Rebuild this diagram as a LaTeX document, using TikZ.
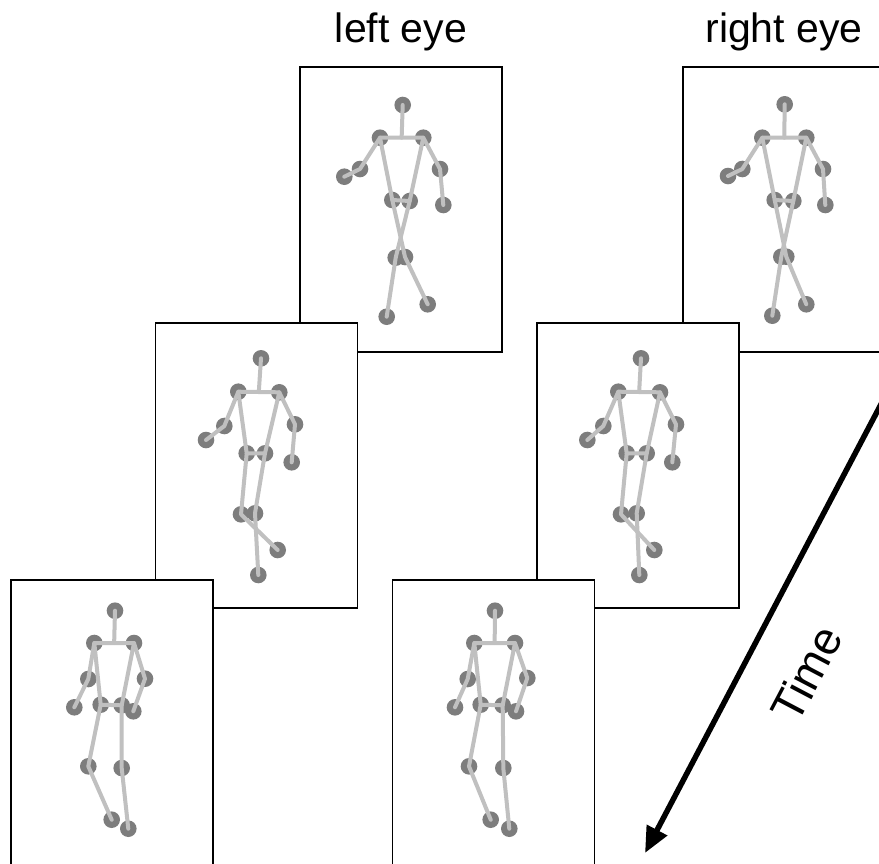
\documentclass[tikz,border=0pt]{standalone}
\usepackage{fontspec}
\setmainfont{Liberation Sans}
\usetikzlibrary{calc,arrows.meta}
\definecolor{jointgray}{RGB}{125,125,125}
\definecolor{bonegray}{RGB}{192,192,192}
\tikzstyle{frame} = [rectangle, draw, line width=1.2pt, fill=white, inner sep=0pt, minimum width=202pt, minimum height=285pt]
\tikzstyle{eyelabel} = [anchor=base, inner sep=0pt, font=\fontsize{41}{48}\selectfont]
\tikzstyle{joint} = [fill=jointgray]
\tikzstyle{bone} = [draw=bonegray, line width=4pt, line cap=round, line join=round]

% one stick figure: #1 name prefix, #2 list of joint/x/y
\newcommand{\stickman}[2]{%
  \foreach \j/\x/\y in {#2} \coordinate (#1-\j) at (\x,\y);
  \foreach \j in {hd,ls,rs,le,re,lw,rw,lp,rp,lk,rk,lf,rf}
    \fill[joint] (#1-\j) circle (8.3pt);
  \draw[bone] (#1-hd) -- ($(#1-ls)!.5!(#1-rs)$);
  \draw[bone] (#1-lw) -- (#1-le) -- (#1-ls) -- (#1-rs) -- (#1-re) -- (#1-rw);
  \draw[bone] (#1-ls) -- (#1-lp) -- (#1-rp) -- (#1-rs);
  \draw[bone] (#1-lp) -- (#1-lk) -- (#1-lf);
  \draw[bone] (#1-rp) -- (#1-rk) -- (#1-rf);
}

\begin{document}
\begin{tikzpicture}[x=1pt,y=-1pt]
  \useasboundingbox (0,0) rectangle (879,863);
  \clip (0,0) rectangle (879,863);

  \node[frame] (L_1) at (401,209.5) {};
  \stickman{S_L1}{hd/402.7/105, ls/380/137.7, rs/423.3/137.7, le/360/169, lw/344.3/176.7, re/440/169, rw/443.3/205, lp/392.3/200, rp/409.7/201, lk/405/257, rk/395.7/257.7, lf/427.7/304.3, rf/386.7/316.7}
  \node[frame] (R_1) at (784,209.5) {};
  \stickman{S_R1}{hd/784.7/104.3, ls/762.3/137.7, rs/806.3/137.7, le/742.3/169, lw/728/176, re/823/169, rw/825.3/205, lp/774.7/200, rp/793.3/201, lk/786.3/256.7, rk/781.3/256.7, lf/806.3/304.3, rf/772.3/315.7}

  \node[frame] (L_2) at (256.5,465.5) {};
  \stickman{S_L2}{hd/261/358.3, ls/238.3/391.7, rs/279.3/392.3, le/224.3/426, lw/206/440, re/295/424.3, rw/291.7/462.3, lp/246.7/453.3, rp/265/453.3, lk/241/514.3, rk/255/513.3, lf/277.7/550, rf/258.3/575}
  \node[frame] (R_2) at (638,465.5) {};
  \stickman{S_R2}{hd/641/358.3, ls/618.3/391.7, rs/660/392.3, le/603.3/426, lw/587.3/440, re/676/424.3, rw/672.3/462.3, lp/626.7/453.3, rp/646.7/453.3, lk/621/514.3, rk/636.7/513.3, lf/654.3/550, rf/639.3/575}

  \node[frame] (L_3) at (112,722.5) {};
  \stickman{S_L3}{hd/115/610.7, ls/94.3/643, rs/134/643, le/88.3/679, lw/74.3/707.3, re/145/678.7, rw/133.3/711.3, lp/100.7/704.7, rp/121.7/705.3, lk/88.3/766.3, rk/121.7/768, lf/111.7/819.7, rf/128.3/828.7}
  \node[frame] (R_3) at (493.5,722.5) {};
  \stickman{S_R3}{hd/495/610.7, ls/474.3/643, rs/515/643, le/467.7/679, lw/455/707.3, re/527.3/678, rw/516/711.3, lp/480.7/704.7, rp/502.7/705.3, lk/469/766.3, rk/503.3/768, lf/490.7/819.7, rf/509.3/828.7}

  \node[eyelabel] (lefteye) at ([yshift=24pt]L_1.north) {left eye};
  \node[eyelabel] (righteye) at ([yshift=24pt]R_1.north) {right eye};

  \coordinate (t_0) at (900,368.1);
  \coordinate (t_1) at (645,853);
  \draw[line width=5.5pt, -{Triangle[length=26pt,width=22pt]}] (t_0) -- node[pos=.573, sloped, below=40pt, inner sep=0pt, font=\fontsize{46}{52}\selectfont] (time) {Time} (t_1);
\end{tikzpicture}
\end{document}
